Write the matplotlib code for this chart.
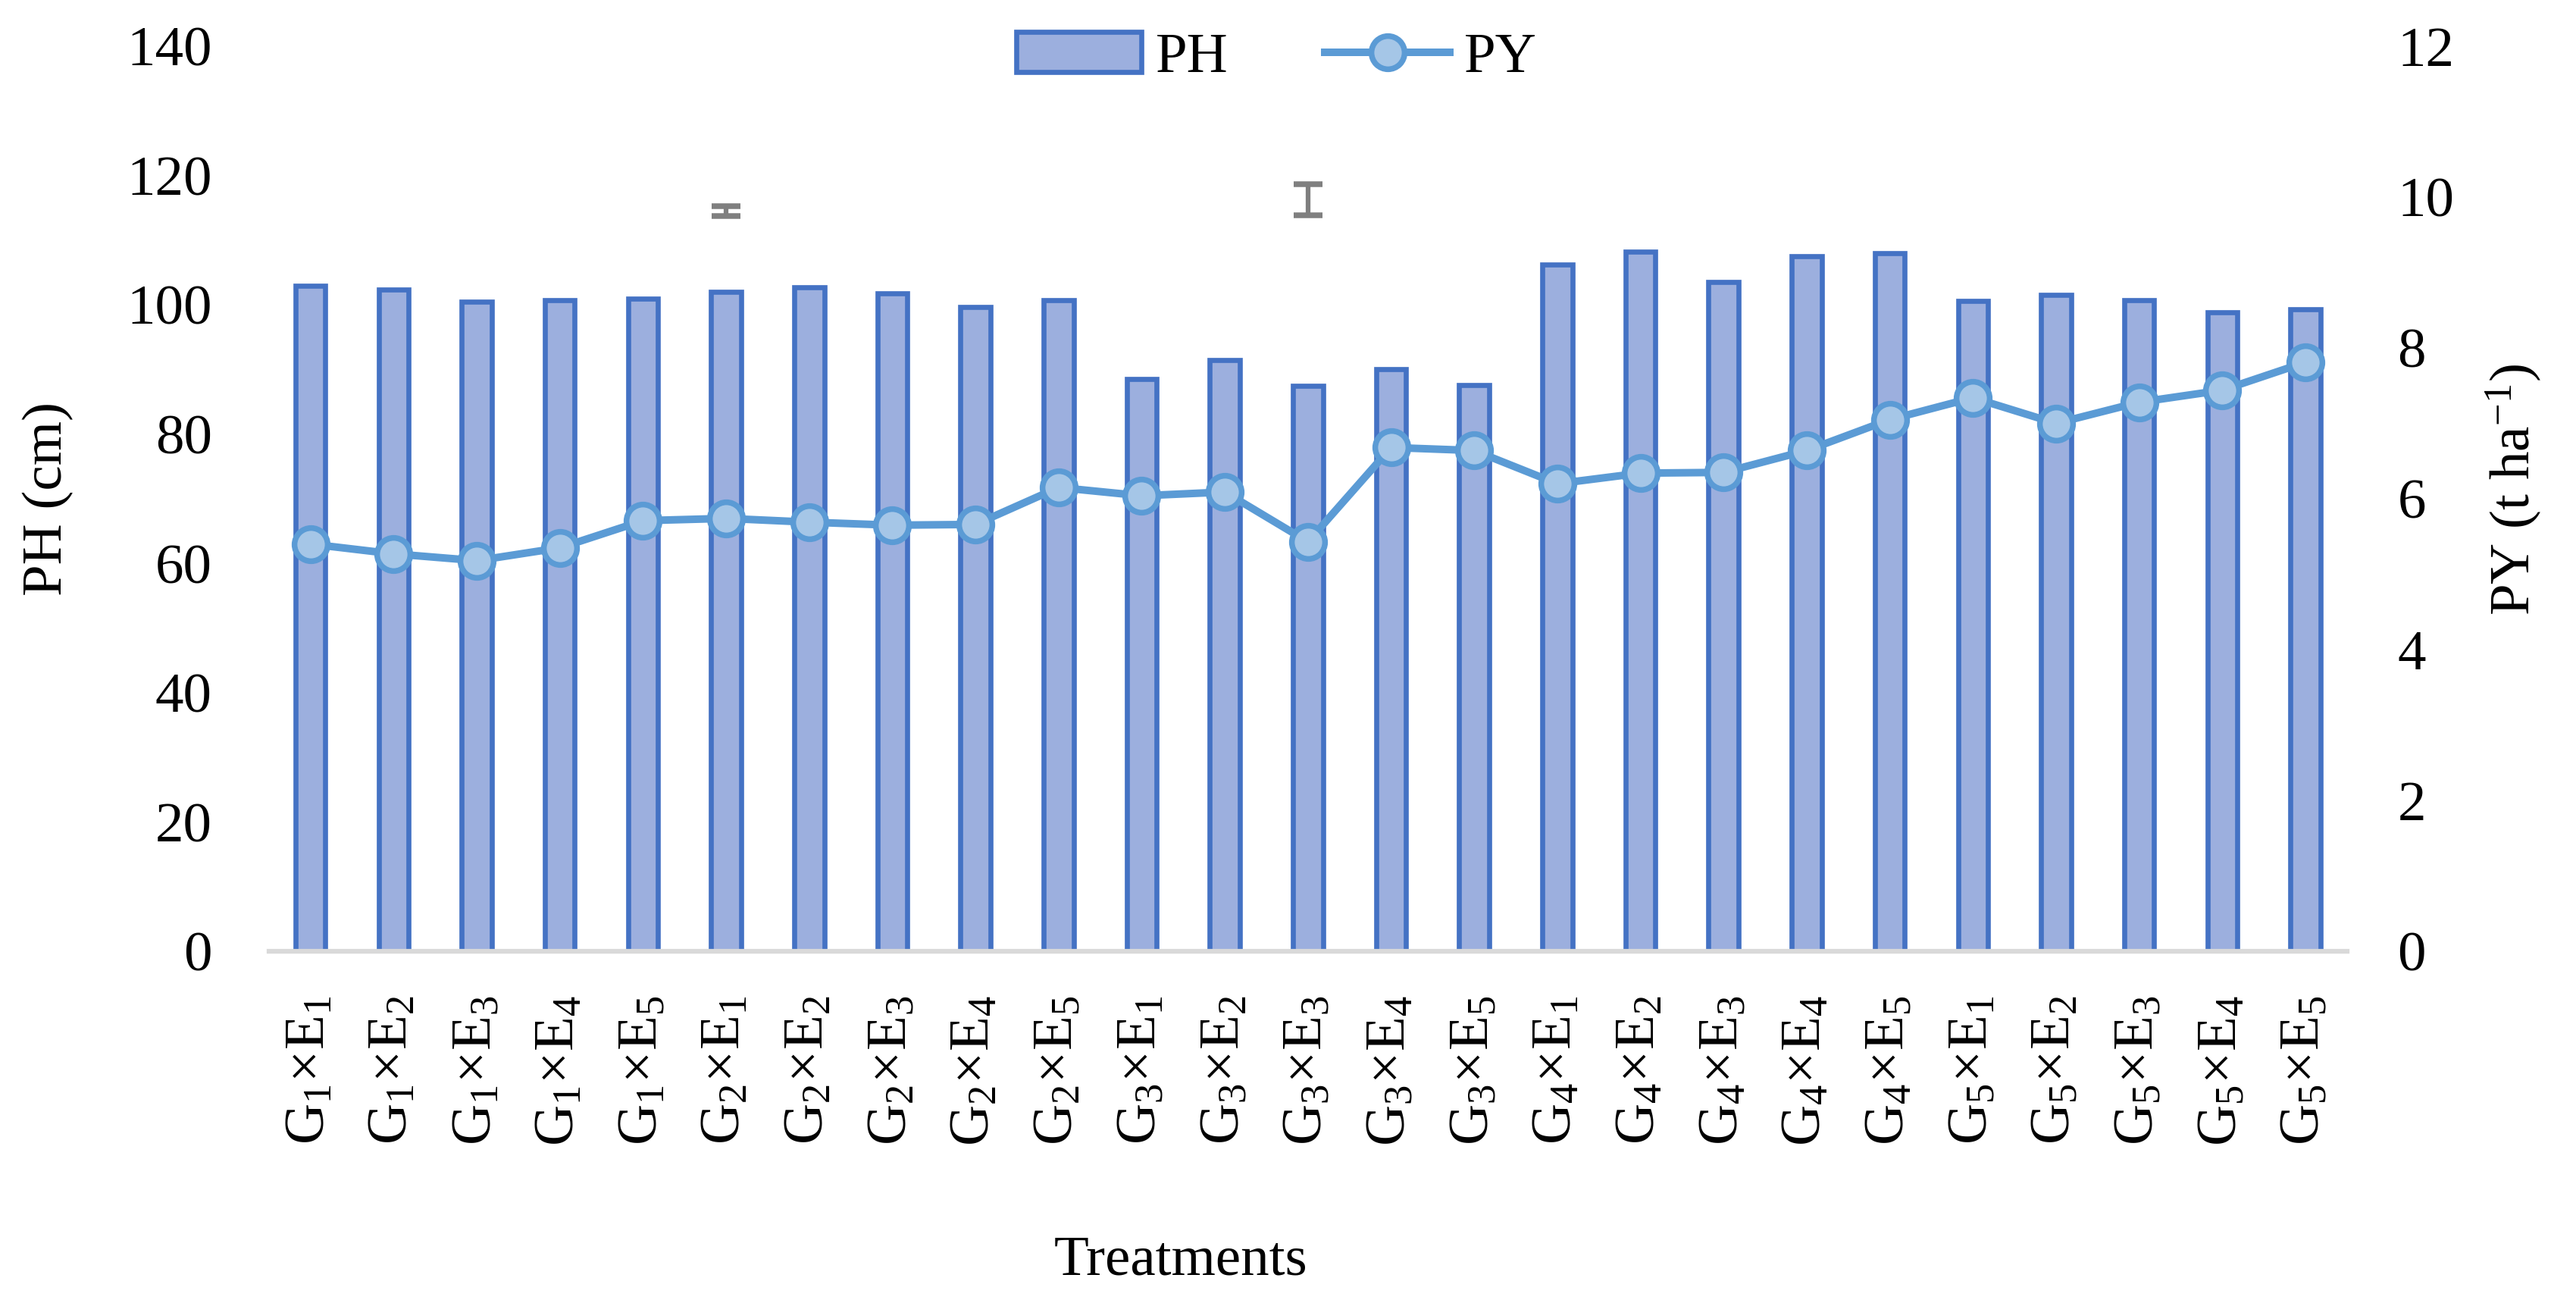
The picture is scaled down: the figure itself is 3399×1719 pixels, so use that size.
import matplotlib
matplotlib.use('Agg')
import matplotlib.pyplot as plt
import numpy as np

plt.rcParams['font.family'] = ['Liberation Serif', 'DejaVu Serif']
plt.rcParams['mathtext.fontset'] = 'custom'
plt.rcParams['mathtext.rm'] = 'Liberation Serif'
plt.rcParams['mathtext.it'] = 'Liberation Serif:italic'

# ── Data ──────────────────────────────────────────────────────────────────
genotypes = ['1', '2', '3', '4', '5']
environments = ['1', '2', '3', '4', '5']
treatments = [f'G$_{g}$×E$_{e}$' for g in genotypes for e in environments]

ph = [102.9, 102.4, 100.5, 100.7, 100.9,
      102.0, 102.7, 101.8, 99.7, 100.7,
      88.5, 91.5, 87.5, 90.0, 87.6,
      106.2, 108.2, 103.5, 107.5, 108.0,
      100.6, 101.5, 100.7, 98.9, 99.3]

py = [5.40, 5.27, 5.18, 5.35, 5.71,
      5.74, 5.69, 5.65, 5.66, 6.15,
      6.04, 6.09, 5.43, 6.68, 6.64,
      6.20, 6.34, 6.35, 6.64, 7.05,
      7.34, 7.00, 7.28, 7.44, 7.81]

# LSD-style bars floating above the columns
lsd_idx = [5, 12]
lsd_mid = [114.5, 116.25]
lsd_err = [0.8, 2.45]

# ── Colours ───────────────────────────────────────────────────────────────
BAR_FILL = '#9CAFDE'
BAR_EDGE = '#4472C4'
LINE_COL = '#5B9BD5'
MARK_FILL = '#A5C6E7'
AXIS_GRAY = '#D9D9D9'

fig = plt.figure(figsize=(3399 / 300, 1719 / 300), dpi=300)
ax = fig.add_axes([0.1044, 0.2699, 0.9111 - 0.1044, 0.9645 - 0.2699])
ax2 = ax.twinx()

x = np.arange(len(treatments))
ax.bar(x, ph, width=0.36, color=BAR_FILL, edgecolor=BAR_EDGE,
       linewidth=1.6, label='PH', zorder=2)
ax.errorbar(lsd_idx, lsd_mid, yerr=lsd_err, fmt='none', ecolor='#7F7F7F',
            elinewidth=1.5, capsize=4.5, capthick=1.8, zorder=3)

ax2.plot(x, py, color=LINE_COL, linewidth=2.4, marker='o', markersize=10.5,
         markerfacecolor=MARK_FILL, markeredgecolor=LINE_COL,
         markeredgewidth=1.8, label='PY', zorder=4)

# ── Axes styling ──────────────────────────────────────────────────────────
ax.set_xlim(-0.5, len(treatments) - 0.5)
ax.set_ylim(0, 140)
ax.set_yticks(np.arange(0, 141, 20))
ax2.set_ylim(0, 12)
ax2.set_yticks(np.arange(0, 13, 2))

for a in (ax, ax2):
    for s in ('top', 'left', 'right', 'bottom'):
        a.spines[s].set_visible(False)
ax.spines['bottom'].set_visible(True)
ax.spines['bottom'].set_color(AXIS_GRAY)
ax.spines['bottom'].set_linewidth(1.5)

ax.set_xticks(x)
ax.set_xticklabels(treatments, rotation=90, fontsize=18)
ax.tick_params(axis='x', length=0, pad=14)
ax.tick_params(axis='y', length=0, pad=18, labelsize=18)
ax2.tick_params(axis='y', length=0, pad=16, labelsize=18)

ax.set_ylabel('PH (cm)', fontsize=18)
ax.yaxis.set_label_coords(-0.094, 0.5)
ax2.set_ylabel('PY (t ha$^{-1}$)', fontsize=18, rotation=90)
ax2.yaxis.set_label_coords(1.066, 0.51)
ax.set_xlabel('Treatments', fontsize=18)
ax.xaxis.set_label_coords(0.4387, -0.314)

# ── Legend ────────────────────────────────────────────────────────────────
h1, l1 = ax.get_legend_handles_labels()
h2, l2 = ax2.get_legend_handles_labels()
ax2.legend(h1 + h2, l1 + l2, loc='center', bbox_to_anchor=(0.485, 0.987),
           ncol=2, frameon=False, fontsize=18, handlelength=2.2,
           handleheight=0.7, handletextpad=0.25, columnspacing=1.7)

fig.savefig('out.png', dpi=300, facecolor='white')
